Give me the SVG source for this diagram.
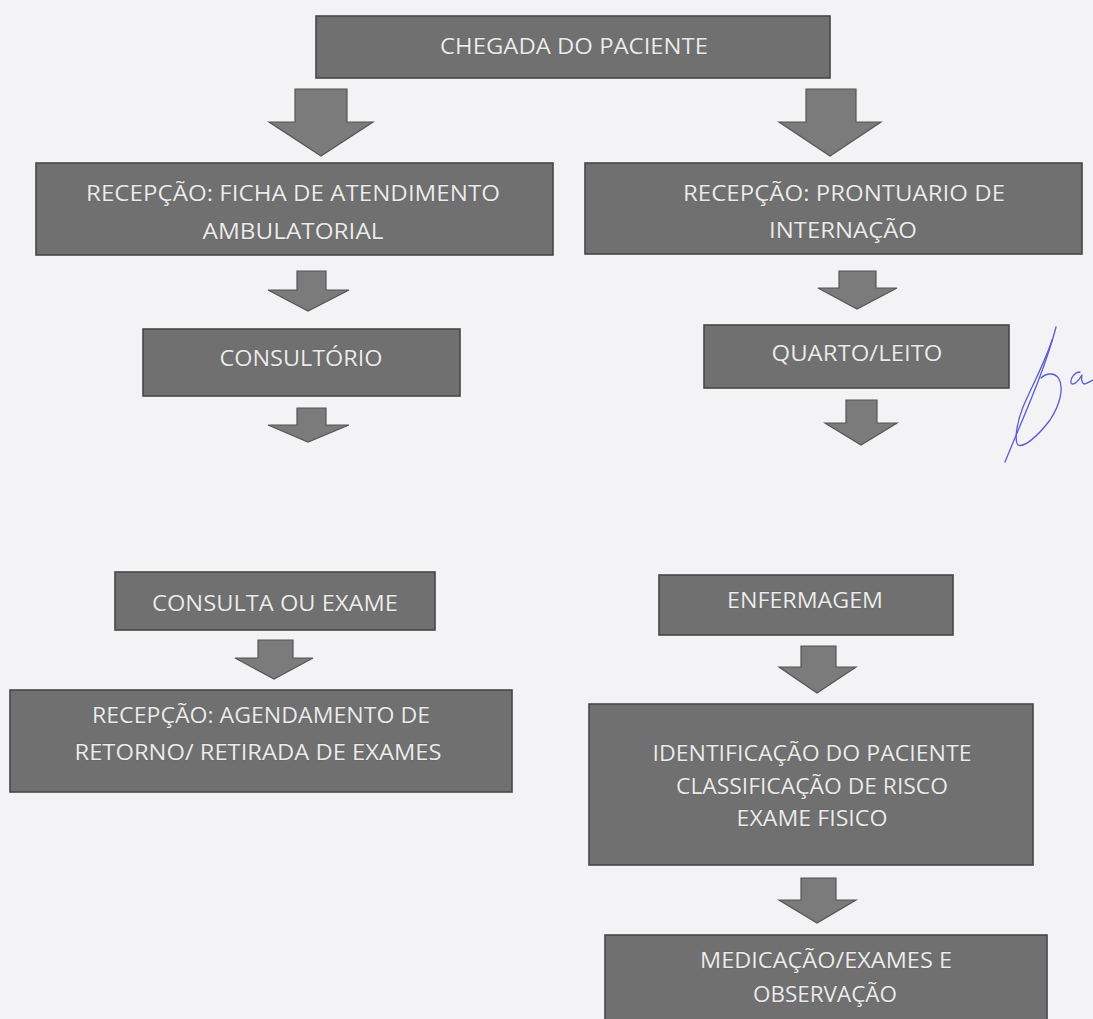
<svg xmlns="http://www.w3.org/2000/svg" width="1093" height="1019" viewBox="0 0 1093 1019">
  <style>
    .box { fill: #707070; stroke: #474747; stroke-width: 1.6; }
    .arrow { fill: #7b7b7b; stroke: #555555; stroke-width: 1.2; stroke-linejoin: miter; }
    .lbl { font-family: "Open Sans", "Liberation Sans", sans-serif; font-size: 22px; fill: #ececec; text-anchor: middle; stroke: #5a5a5a; stroke-width: 0.6; paint-order: stroke; }
    .sig { fill: none; stroke: #5b5bd6; stroke-width: 1.3; stroke-linecap: round; stroke-linejoin: round; }
  </style>
  <rect x="0" y="0" width="1093" height="1019" fill="#f3f2f5"/>

  <g id="connectors">
    <polygon class="arrow" points="295,89 347,89 347,122 373,122 321,156 269,122 295,122"/>
    <polygon class="arrow" points="806,89 856,89 856,122 881,122 830,156 779,122 806,122"/>
    <polygon class="arrow" points="297,271 326,271 326,290 349,290 308,311 268,290 297,290"/>
    <polygon class="arrow" points="839,271 876,271 876,288 897,288 857,309 818,288 839,288"/>
    <polygon class="arrow" points="297,408 326,408 326,425 349,425 308,442 268,425 297,425"/>
    <polygon class="arrow" points="846,400 877,400 877,423 897,423 861,445 825,423 846,423"/>
    <polygon class="arrow" points="258,640 293,640 293,658 313,658 274,679 235,658 258,658"/>
    <polygon class="arrow" points="801,646 836,646 836,667 856,667 817,693 779,667 801,667"/>
    <polygon class="arrow" points="801,878 836,878 836,900 856,900 817,923 779,900 801,900"/>
  </g>

  <g id="n-chegada">
    <rect class="box" x="316" y="16" width="514" height="62"/>
    <text class="lbl" x="574" y="54" textLength="268" lengthAdjust="spacingAndGlyphs">CHEGADA DO PACIENTE</text>
  </g>
  <g id="n-recepcao-ambulatorial">
    <rect class="box" x="36" y="163" width="517" height="92"/>
    <text class="lbl" x="293" y="201" textLength="414" lengthAdjust="spacingAndGlyphs">RECEPÇÃO: FICHA DE ATENDIMENTO</text>
    <text class="lbl" x="293" y="239" textLength="181" lengthAdjust="spacingAndGlyphs">AMBULATORIAL</text>
  </g>
  <g id="n-recepcao-internacao">
    <rect class="box" x="585" y="163" width="497" height="91"/>
    <text class="lbl" x="844" y="201" textLength="322" lengthAdjust="spacingAndGlyphs">RECEPÇÃO: PRONTUARIO DE</text>
    <text class="lbl" x="843" y="238" textLength="148" lengthAdjust="spacingAndGlyphs">INTERNAÇÃO</text>
  </g>
  <g id="n-consultorio">
    <rect class="box" x="143" y="329" width="317" height="67"/>
    <text class="lbl" x="301" y="366" textLength="163" lengthAdjust="spacingAndGlyphs">CONSULTÓRIO</text>
  </g>
  <g id="n-quarto">
    <rect class="box" x="704" y="325" width="305" height="63"/>
    <text class="lbl" x="857" y="361" textLength="171" lengthAdjust="spacingAndGlyphs">QUARTO/LEITO</text>
  </g>
  <g id="n-consulta-exame">
    <rect class="box" x="115" y="572" width="320" height="58"/>
    <text class="lbl" x="275" y="611" textLength="246" lengthAdjust="spacingAndGlyphs">CONSULTA OU EXAME</text>
  </g>
  <g id="n-agendamento">
    <rect class="box" x="10" y="690" width="502" height="102"/>
    <text class="lbl" x="261" y="723" textLength="338" lengthAdjust="spacingAndGlyphs">RECEPÇÃO: AGENDAMENTO DE</text>
    <text class="lbl" x="258" y="760" textLength="367" lengthAdjust="spacingAndGlyphs">RETORNO/ RETIRADA DE EXAMES</text>
  </g>
  <g id="n-enfermagem">
    <rect class="box" x="659" y="575" width="294" height="60"/>
    <text class="lbl" x="805" y="608" textLength="156" lengthAdjust="spacingAndGlyphs">ENFERMAGEM</text>
  </g>
  <g id="n-identificacao">
    <rect class="box" x="589" y="704" width="444" height="161"/>
    <text class="lbl" x="812" y="761" textLength="319" lengthAdjust="spacingAndGlyphs">IDENTIFICAÇÃO DO PACIENTE</text>
    <text class="lbl" x="812" y="794" textLength="272" lengthAdjust="spacingAndGlyphs">CLASSIFICAÇÃO DE RISCO</text>
    <text class="lbl" x="812" y="826" textLength="151" lengthAdjust="spacingAndGlyphs">EXAME FISICO</text>
  </g>
  <g id="n-medicacao">
    <rect class="box" x="605" y="935" width="442" height="95"/>
    <text class="lbl" x="826" y="968" textLength="252" lengthAdjust="spacingAndGlyphs">MEDICAÇÃO/EXAMES E</text>
    <text class="lbl" x="825" y="1002" textLength="144" lengthAdjust="spacingAndGlyphs">OBSERVAÇÃO</text>
  </g>

  <g id="signature">
    <path class="sig" d="M1056,327 C1045,370 1022,420 1005,462"/>
    <path class="sig" d="M1052,340 C1046,360 1030,390 1023,407 C1017,422 1014,440 1018,445 C1024,448 1038,436 1050,420 C1060,405 1064,388 1059,379 C1055,372 1046,373 1041,378"/>
    <path class="sig" d="M1080,372 C1075,372 1070,378 1071,383 C1073,386 1078,382 1082,375 C1081,380 1082,384 1085,384 C1088,383 1091,381 1093,380"/>
  </g>
</svg>
